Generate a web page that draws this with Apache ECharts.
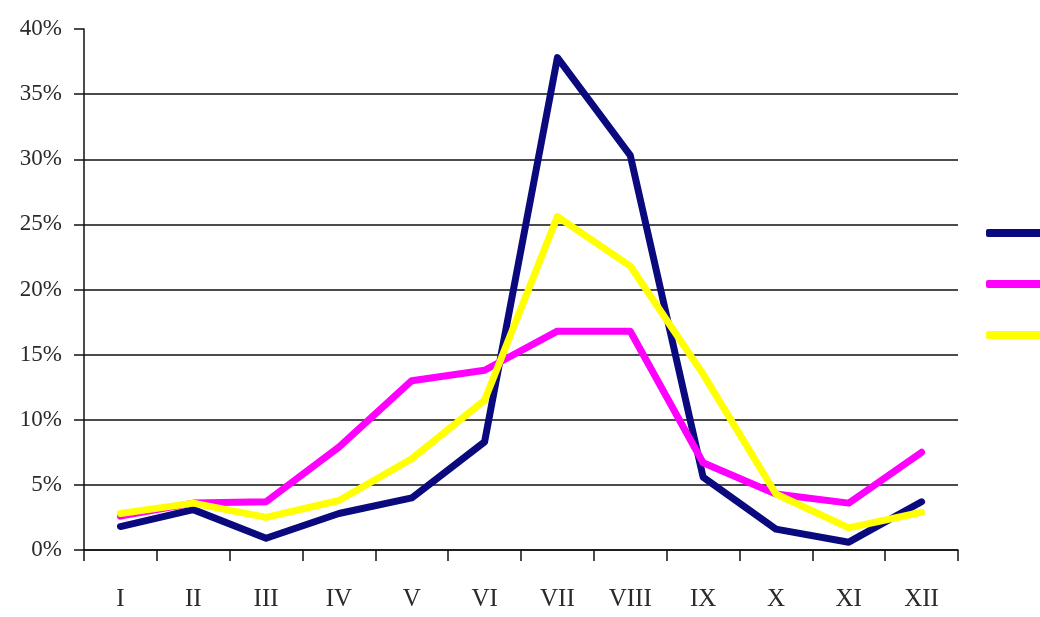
<!DOCTYPE html>
<html><head><meta charset="utf-8">
<script src="https://cdn.jsdelivr.net/npm/echarts@6/dist/echarts.min.js"></script>
<style>html,body{margin:0;padding:0;background:#fff}#c{width:1040px;height:617px}</style>
</head><body><div id="c"></div>
<script>
const categories = ['I','II','III','IV','V','VI','VII','VIII','IX','X','XI','XII'];
const yTicks = [0,5,10,15,20,25,30,35,40];
const seriesNames = ['Series 1','Series 2','Series 3'];
const navyValues = [1.8, 3.1, 0.9, 2.8, 4.0, 8.3, 37.8, 30.3, 5.6, 1.6, 0.6, 3.7];
const magentaValues = [2.6, 3.6, 3.7, 7.9, 13.0, 13.8, 16.8, 16.8, 6.7, 4.3, 3.6, 7.5];
const yellowValues = [2.8, 3.6, 2.5, 3.8, 7.0, 11.5, 25.6, 21.8, 13.5, 4.3, 1.7, 2.9];
const colors = ['#0a0a7e', '#ff00ff', '#ffff00'];

const chart = echarts.init(document.getElementById('c'));
const mk = (name, data, color) => ({
  name, type: 'line', data, symbol: 'none', smooth: false,
  lineStyle: { color, width: 7, cap: 'round', join: 'round' },
  itemStyle: { color }
});
chart.setOption({
  animation: false,
  backgroundColor: '#fff',
  grid: { left: 84, right: 82, top: 29, bottom: 67, containLabel: false },
  legend: {
    orient: 'vertical', left: 981, top: 224, itemWidth: 70, itemHeight: 8, itemGap: 43,
    icon: 'roundRect', formatter: () => '',
    data: seriesNames
  },
  xAxis: {
    type: 'category', data: categories, boundaryGap: true,
    axisLine: { lineStyle: { color: '#111', width: 1.5 } },
    axisTick: { show: true, length: 11, inside: false, alignWithLabel: false, lineStyle: { color: '#111', width: 1.5 } },
    axisLabel: { color: '#2a2a2a', fontFamily: 'Liberation Serif', fontSize: 25, margin: 37 },
    splitLine: { show: false }
  },
  yAxis: {
    type: 'value', min: yTicks[0], max: yTicks[yTicks.length-1], interval: 5,
    axisLine: { show: true, lineStyle: { color: '#111', width: 1.5 } },
    axisTick: { show: true, length: 10, lineStyle: { color: '#111', width: 1.5 } },
    axisLabel: { color: '#2a2a2a', fontFamily: 'Liberation Serif', fontSize: 23, margin: 22, formatter: v => v + '%' },
    splitLine: { show: true, showMaxLine: false, lineStyle: { color: '#111', width: 1.5 } }
  },
  series: [
    mk(seriesNames[0], navyValues, colors[0]),
    mk(seriesNames[1], magentaValues, colors[1]),
    mk(seriesNames[2], yellowValues, colors[2])
  ]
});
</script></body></html>
